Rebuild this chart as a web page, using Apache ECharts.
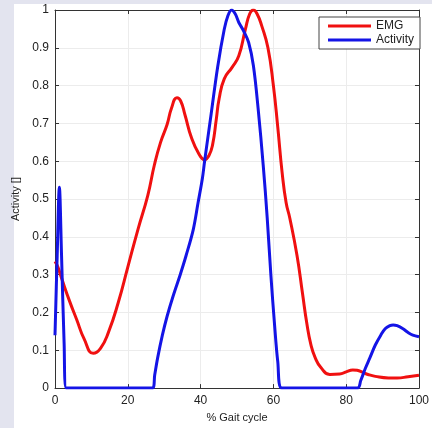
<!DOCTYPE html>
<html>
<head>
<meta charset="utf-8">
<script src="https://cdn.jsdelivr.net/npm/echarts@6/dist/echarts.min.js"></script>
<style>
html,body{margin:0;padding:0;background:#e3e4ef;}
#c{width:432px;height:428px;}
</style>
</head>
<body>
<div id="c"></div>
<script>
// Data
const emgX = [0, 0.8, 2, 4, 6, 8, 10.5, 12.5, 14.7, 17.4, 20, 22.8, 25.5, 27.3, 29, 30.8, 32, 33.5, 34.5, 35.7, 37.5, 39.5, 41.1, 42.3, 43.3, 44.3, 45.1, 46.5, 48.7, 50.5, 52.3, 53.5, 54.5, 55.5, 56.8, 58.5, 60, 61.2, 62.4, 63.5, 64.5, 66.5, 68, 69.2, 70.3, 71.5, 73, 75.5, 78.2, 80, 81.8, 83, 84.5, 86, 88, 91.6, 94, 97, 100];
const emgY = [0.335, 0.32, 0.285, 0.23, 0.18, 0.13, 0.092, 0.105, 0.148, 0.227, 0.32, 0.42, 0.51, 0.59, 0.65, 0.697, 0.74, 0.768, 0.76, 0.723, 0.662, 0.62, 0.604, 0.615, 0.644, 0.71, 0.766, 0.818, 0.849, 0.879, 0.949, 0.99, 1.0, 0.99, 0.958, 0.9, 0.8, 0.69, 0.57, 0.49, 0.45, 0.35, 0.25, 0.17, 0.115, 0.08, 0.055, 0.036, 0.037, 0.043, 0.048, 0.047, 0.042, 0.036, 0.031, 0.027, 0.027, 0.03, 0.034];
const actX = [0, 0.6, 1.2, 1.8, 2.5, 3.1, 26.8, 27.4, 28.2, 29.5, 30.8, 32.5, 34.4, 36, 38, 39.3, 40.5, 41.1, 42.9, 44.7, 46.5, 47.5, 48.5, 49.5, 50.5, 51.8, 53.2, 54.5, 55.8, 57.2, 58.3, 59.3, 60.3, 61.2, 62.3, 83.1, 84, 85.3, 86.5, 88, 89.5, 90.7, 92, 92.9, 94, 95.6, 97, 98.3, 100];
const actY = [0.14, 0.35, 0.531, 0.35, 0.12, 0, 0, 0.035, 0.08, 0.14, 0.19, 0.245, 0.3, 0.35, 0.42, 0.49, 0.555, 0.6, 0.725, 0.85, 0.949, 0.985, 1.0, 0.99, 0.967, 0.945, 0.914, 0.853, 0.74, 0.59, 0.45, 0.3, 0.17, 0.07, 0, 0, 0.02, 0.053, 0.08, 0.114, 0.14, 0.157, 0.165, 0.167, 0.165, 0.157, 0.147, 0.14, 0.136];
const xTicks = [0, 20, 40, 60, 80, 100];
const yTicks = [0, 0.1, 0.2, 0.3, 0.4, 0.5, 0.6, 0.7, 0.8, 0.9, 1];
const seriesNames = ['EMG', 'Activity'];

const pairs = (xs, ys) => xs.map((x, i) => [x, ys[i]]);
const fmtY = v => (Math.abs(v - 1) < 1e-9 ? '1' : (Math.abs(v) < 1e-9 ? '0' : v.toFixed(1)));

const chart = echarts.init(document.getElementById('c'), null, {renderer: 'canvas'});
const axisLineStyle = {color: '#333', width: 1};
const font = 'Liberation Sans, Arial, sans-serif';
chart.setOption({
  backgroundColor: '#e3e4ef',
  animation: false,
  graphic: [{
    type: 'rect', left: 14, top: 4, z: -10,
    shape: {width: 418, height: 424},
    style: {fill: '#ffffff'}
  }],
  grid: {left: 55, right: 4, top: 10, bottom: 34.5, containLabel: false},
  legend: {
    data: seriesNames,
    orient: 'vertical',
    left: 319, top: 17,
    padding: [3, 6, 3, 9],
    itemGap: 2,
    itemWidth: 43, itemHeight: 3,
    icon: 'rect',
    backgroundColor: '#fff',
    borderColor: '#444', borderWidth: 1,
    textStyle: {fontSize: 12, color: '#222', fontFamily: font}
  },
  xAxis: [{
    type: 'value', min: 0, max: 100, interval: 20,
    name: '% Gait cycle', nameLocation: 'middle', nameGap: 21,
    nameTextStyle: {fontSize: 11, color: '#222', fontFamily: font},
    axisLine: {show: true, lineStyle: axisLineStyle},
    axisTick: {show: true, inside: true, length: 4, lineStyle: {color: '#333'}},
    axisLabel: {fontSize: 12, color: '#222', fontFamily: font, margin: 7,
      formatter: v => xTicks.includes(v) ? String(v) : ''},
    splitLine: {show: true, lineStyle: {color: '#ececec', width: 1}}
  }, {
    type: 'value', min: 0, max: 100, interval: 20, position: 'top',
    axisLine: {show: true, onZero: false, lineStyle: axisLineStyle},
    axisTick: {show: true, inside: true, length: 4, lineStyle: {color: '#333'}},
    axisLabel: {show: false}, splitLine: {show: false}
  }],
  yAxis: [{
    type: 'value', min: 0, max: 1, interval: 0.1,
    name: 'Activity []', nameLocation: 'middle', nameGap: 31,
    nameTextStyle: {fontSize: 11, color: '#222', fontFamily: font},
    axisLine: {show: true, onZero: false, lineStyle: axisLineStyle},
    axisTick: {show: true, inside: true, length: 4, lineStyle: {color: '#333'}},
    axisLabel: {fontSize: 12, color: '#222', fontFamily: font, margin: 6, formatter: fmtY},
    splitLine: {show: true, lineStyle: {color: '#ececec', width: 1}}
  }, {
    type: 'value', min: 0, max: 1, interval: 0.1, position: 'right',
    axisLine: {show: true, onZero: false, lineStyle: axisLineStyle},
    axisTick: {show: true, inside: true, length: 4, lineStyle: {color: '#333'}},
    axisLabel: {show: false}, splitLine: {show: false}
  }],
  series: [{
    name: seriesNames[0], type: 'line', data: pairs(emgX, emgY),
    showSymbol: false, smooth: 0.5,
    lineStyle: {color: '#f01010', width: 3}, itemStyle: {color: '#f01010'}
  }, {
    name: seriesNames[1], type: 'line', data: pairs(actX, actY),
    showSymbol: false, smooth: 0.35,
    lineStyle: {color: '#1414e6', width: 3}, itemStyle: {color: '#1414e6'}
  }]
});
</script>
</body>
</html>
